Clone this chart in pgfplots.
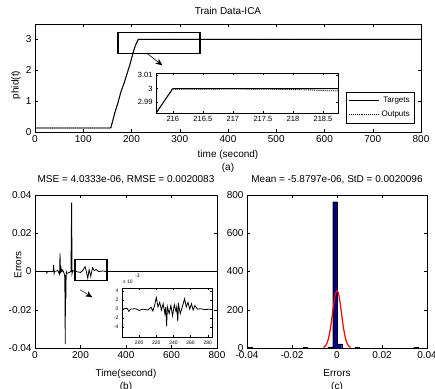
\documentclass[border=0pt]{standalone}
\usepackage{pgfplots}
\pgfplotsset{compat=1.18}
\usepackage{fontspec}
\setmainfont{Liberation Sans}
\usetikzlibrary{arrows.meta}
\definecolor{mblue}{rgb}{0,0,0.56}
\pgfplotsset{
  mstyle/.style={scale only axis, axis line style={black, line width=0.5pt},
    tick style={black, line width=0.4pt}, major tick length=3pt, tick align=inside,
    /pgf/number format/assume math mode=true,
    tick label style={font=\fontsize{10}{12}\selectfont},
    label style={font=\fontsize{10}{13}\selectfont},
    title style={font=\fontsize{10}{12}\selectfont}},
  istyle/.style={scale only axis, axis line style={black, line width=0.4pt},
    tick style={black, line width=0.3pt}, major tick length=2pt, tick align=inside,
    /pgf/number format/assume math mode=true,
    axis background/.style={fill=white}}
}
\begin{document}
\begin{tikzpicture}
\useasboundingbox (0pt,0pt) rectangle (435pt,388pt);
% ---------------- top panel
\begin{axis}[mstyle, at={(35pt,256pt)}, anchor=south west, width=386pt, height=108pt,
  xmin=0, xmax=800, ymin=0, ymax=3.5, xtick={0,100,...,800}, ytick={0,1,2,3},
  xlabel={time (second)\\(a)}, xlabel style={align=center, yshift=-1pt},
  title={Train Data-ICA},
  legend cell align=right,
  legend style={at={(0.984,0.083)}, anchor=south east, font=\fontsize{8}{9}\selectfont,
    draw=black, inner sep=3pt, row sep=3pt},
  legend image code/.code={\draw[#1] (0pt,0pt) -- (30pt,0pt);}]
\addplot[black, line width=0.9pt] coordinates {(0,0.13) (157,0.13) (160,0.3) (165,0.6) (172,0.95) (178,1.3) (185,1.6) (190,1.85) (197,2.2) (203,2.55) (208,2.8) (214,3.0) (800,3.0)};
\addlegendentry{Targets}
\addplot[black, line width=0.9pt, densely dotted] coordinates {(0,0.13) (157,0.13) (160,0.3) (165,0.6) (172,0.95) (178,1.3) (185,1.6) (190,1.85) (197,2.2) (203,2.55) (208,2.8) (214,3.0) (800,3.0)};
\addlegendentry{Outputs}
\draw[line width=1.6pt] (axis cs:172,2.55) rectangle (axis cs:342,3.23);
\draw[line width=0.6pt, -{Stealth[length=7pt,width=6pt]}] (axis cs:232,2.55) -- (axis cs:264,2.16);
\end{axis}
\node[rotate=90, font=\fontsize{10}{12}\selectfont] at (16pt,303pt) {phid(t)};
% ---------------- top inset
\begin{axis}[istyle, at={(156pt,275pt)}, anchor=south west, width=182pt, height=40pt,
  xmin=215.72, xmax=218.75, ymin=2.982, ymax=3.0115,
  xtick={216,216.5,...,218.5}, ytick={2.99,3,3.01},
  tick label style={font=\fontsize{7.5}{9}\selectfont},
  yticklabel style={/pgf/number format/precision=2}]
\addplot[black, line width=0.9pt] coordinates {(215.72,2.982) (216,3.0) (218.75,3.0)};
\addplot[black, line width=0.9pt, densely dotted] coordinates {(215.72,2.9815) (215.99,2.9995) (217,2.9997) (217.5,2.9996) (218.0,2.9993) (218.3,2.999) (218.5,2.9985) (218.75,2.9983)};
\end{axis}
% ---------------- bottom left
\begin{axis}[mstyle, at={(35pt,40pt)}, anchor=south west, width=182pt, height=153pt,
  xmin=0, xmax=800, ymin=-0.04, ymax=0.04, xtick={0,200,...,800}, ytick={-0.04,-0.02,0,0.02,0.04},
  scaled y ticks=false, yticklabel style={/pgf/number format/fixed, /pgf/number format/precision=2},
  xlabel={Time(second)\\(b)}, xlabel style={align=center, yshift=-4pt},
  title={MSE = 4.0333e-06, RMSE = 0.0020083}, title style={yshift=2pt}]
\addplot[black, line width=0.8pt] coordinates {(0,0) (50,0) (52,-0.0008) (54,0) (80,0) (82,0.0035) (84,-0.001) (86,0) (100,0.0005) (108,-0.0015) (110,0.0095) (112,-0.001) (114,0.002) (118,0) (122,0.0008) (128,-0.001) (131,-0.003) (133,-0.038) (134,-0.002) (136,-0.014) (137,0.0) (140,-0.001) (150,-0.0005) (158,0) (161,0.036) (163,-0.001) (166,0.0005) (180,0) (200,-0.0005) (210,0.0005) (220,0.0025) (225,0.0005) (232,-0.0035) (238,0.001) (245,-0.0025) (253,0.002) (260,0.0005) (268,0.001) (280,0) (300,0.0003) (310,0) (800,0)};
\draw[line width=1.6pt] (axis cs:176,0.0063) rectangle (axis cs:316,-0.0047);
\draw[line width=0.5pt, -{Stealth[length=7pt,width=6pt]}] (axis cs:198,-0.0095) -- (axis cs:252,-0.0135);
\end{axis}
\node[rotate=90, font=\fontsize{10}{12}\selectfont] at (18pt,123pt) {Errors};
% ---------------- bottom inset
\begin{axis}[istyle, at={(122pt,51pt)}, anchor=south west, width=90pt, height=49pt,
  xmin=180, xmax=285, ymin=-6.2, ymax=4.7,
  xtick={200,220,...,280}, ytick={-4,-2,0,2,4},
  tick label style={font=\fontsize{5}{6}\selectfont}]
\addplot[black, line width=0.8pt] coordinates {(180,0) (186,0.2) (188,-0.5) (190,0) (196,0.1) (200,-0.3) (204,0) (210,-0.2) (214,0.4) (216,-0.4) (218,0.8) (220,2.6) (222,0.5) (224,1.5) (226,-0.2) (228,1.2) (230,-1) (231,0.5) (232,-3.8) (233,0.5) (235,-1) (237,0.8) (239,-1.5) (241,1) (243,-0.5) (244,0.6) (245,-2.7) (246,1) (248,-1) (250,0.3) (253,2.3) (255,0.5) (257,1.5) (259,0) (261,1.2) (263,-0.2) (265,0.8) (268,0) (272,0.1) (276,-0.1) (284,0)};
\end{axis}
\node[font=\fontsize{5}{6}\selectfont, anchor=west, inner sep=0pt] at (123pt,106pt) {x 10};
\node[font=\fontsize{5}{6}\selectfont, anchor=west, inner sep=0pt] at (135pt,112pt) {-3};
% ---------------- bottom right
\begin{axis}[mstyle, at={(247pt,40pt)}, anchor=south west, width=180pt, height=153pt,
  xmin=-0.04, xmax=0.04, ymin=0, ymax=800, xtick={-0.04,-0.02,0,0.02,0.04}, ytick={0,200,...,800},
  scaled x ticks=false, xticklabel style={/pgf/number format/fixed, /pgf/number format/precision=2},
  xlabel={Errors\\(c)}, xlabel style={align=center, yshift=-4pt},
  title={Mean = -5.8797e-06, StD = 0.0020096}, title style={yshift=2pt}]
\addplot[ybar, bar width=0.002, fill=mblue, draw=black, line width=0.3pt] coordinates {(-0.0009,765) (0.0011,22) (-0.0029,6) (-0.0387,3) (-0.0142,2) (0.0089,2) (0.0351,3)};
\addplot[red, line width=1.2pt, smooth] coordinates {(-0.006,3) (-0.0055,7) (-0.005,13) (-0.0045,24) (-0.004,41) (-0.0035,65) (-0.003,97) (-0.0025,137) (-0.002,182) (-0.0015,226) (-0.001,265) (-0.0005,291) (0,300) (0.0005,291) (0.001,265) (0.0015,226) (0.002,182) (0.0025,137) (0.003,97) (0.0035,65) (0.004,41) (0.0045,24) (0.005,13) (0.0055,7) (0.006,3)};
\end{axis}
\end{tikzpicture}
\end{document}
